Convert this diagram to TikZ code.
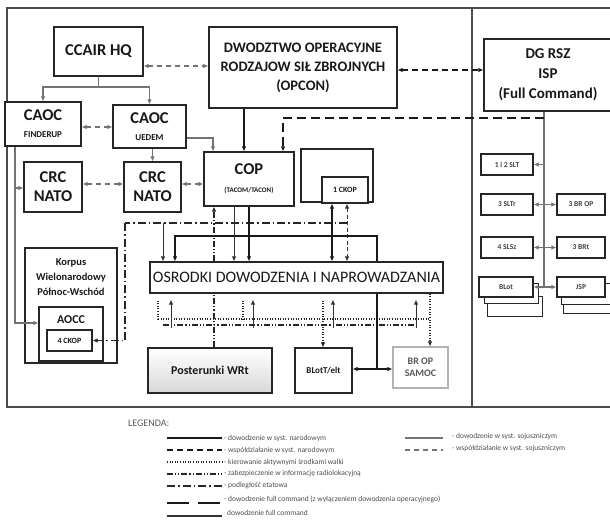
\documentclass[tikz,border=0pt]{standalone}
\usepackage{fontspec}
\setmainfont{Carlito}
\usetikzlibrary{arrows.meta,shadows,calc}
\tikzset{
  box/.style={draw=black!85, line width=1.1pt, fill=white, align=center, inner sep=1pt,
    font=\bfseries, text=black!90,
    drop shadow={shadow xshift=1.2pt, shadow yshift=-1.2pt, fill=black!35, opacity=1}},
  fs/.style={font={\bfseries\fontsize{#1}{#1*1.15}\selectfont}},
  frame/.style={draw=black!70, line width=1.1pt},
  nat/.style={draw=black!90, line width=1.7pt},
  natco/.style={draw=black!90, line width=1.7pt, dash pattern=on 6pt off 4pt},
  ctrl/.style={draw=black!85, line width=1.3pt, dash pattern=on 1pt off 1.6pt},
  radar/.style={draw=black!85, line width=1.2pt, dash pattern=on 6pt off 2pt on 1.2pt off 2pt on 1.2pt off 2pt},
  etat/.style={draw=black!85, line width=1.3pt, dash pattern=on 8pt off 3pt on 1.5pt off 3pt},
  fullc/.style={draw=black!90, line width=1.7pt, dash pattern=on 9pt off 5pt},
  ally/.style={draw=black!55, line width=1.3pt},
  allyco/.style={draw=black!55, line width=1.3pt, dash pattern=on 5pt off 4pt},
  thinln/.style={draw=black!80, line width=0.9pt},
  thindash/.style={draw=black!80, line width=1pt, dash pattern=on 4pt off 2.5pt},
  legtxt/.style={anchor=west, font=\fontsize{7.5}{8}\selectfont, text=black!70, inner sep=0pt},
  stack/.style={draw=black!85, line width=1pt, fill=white},
}
\newcommand{\bx}[7][]{%
  \node[box,#1,minimum width={(#5-#3)*1pt},minimum height={(#6-#4)*1pt}] (#2)
    at ({(#3+#5)/2},{(#4+#6)/2}) {#7};}
\begin{document}
\begin{tikzpicture}[x=1pt,y=-1pt,>={Latex[length=5pt,width=4.5pt]}]
\useasboundingbox (0,0) rectangle (610,527);
\clip (0,0) rectangle (610,527);
% frame
\draw[frame] (7,8) rectangle (620,407);
\draw[frame] (472,8) -- (472,407);

% boxes
\bx[font={\bfseries\fontsize{16.5}{18}\selectfont}]{ccair}{54}{27}{143}{76}{CCAIR HQ}
\bx[font={\bfseries\fontsize{14.5}{19}\selectfont}]{dwo}{209}{27}{397}{108}{DWODZTWO OPERACYJNE\\RODZAJOW SIŁ ZBROJNYCH\\(OPCON)}
\bx[font={\bfseries\fontsize{15}{20}\selectfont}]{dgrsz}{484}{39}{612}{111}{DG RSZ\\ISP\\(Full Command)}
\bx[font={\bfseries\fontsize{16.5}{17}\selectfont}]{caocf}{5}{102}{81}{146}{CAOC\\{\fontsize{9}{10}\selectfont FINDERUP}}
\bx[font={\bfseries\fontsize{16.5}{17}\selectfont}]{caocu}{113}{105}{186}{148}{CAOC\\{\fontsize{9}{10}\selectfont UEDEM}}
\bx[font={\bfseries\fontsize{16.5}{19}\selectfont}]{crcl}{24}{162}{82}{212}{CRC\\NATO}
\bx[font={\bfseries\fontsize{16.5}{19}\selectfont}]{crcm}{124}{162}{181}{212}{CRC\\NATO}
\bx[font={\bfseries\fontsize{16.5}{18}\selectfont}]{cop}{204}{152}{294}{206}{COP\\{\fontsize{7}{9}\selectfont (TACOM/TACON)}}
\bx{ckbox}{301}{149}{373}{202}{}
\bx[font={\bfseries\fontsize{8}{9}\selectfont}]{ckop1}{322}{177}{368}{203}{1 CKOP}
\bx[font={\fontsize{16}{18}\selectfont}]{osr}{150}{262}{443}{293}{OSRODKI DOWODZENIA I NAPROWADZANIA}
\bx{korp}{25}{248}{117}{363}{}
\node[font={\bfseries\fontsize{10.5}{15}\selectfont}, align=center, text=black!90] (korpt) at (71,277) {Korpus\\Wielonarodowy\\Północ-Wschód};
\bx{aocc}{39}{307}{103}{361}{}
\node[font={\bfseries\fontsize{12}{13}\selectfont}, text=black!90] (aocct) at (71,320) {AOCC};
\bx[font={\bfseries\fontsize{8}{9}\selectfont}]{ckop4}{47}{330}{92}{351}{4 CKOP}
\bx[top color=white, bottom color=black!15, font={\bfseries\fontsize{12}{13}\selectfont}]{post}{148}{348}{272}{393}{Posterunki WRt}
\bx[font={\bfseries\fontsize{9}{10}\selectfont}]{blot}{295}{348}{352}{393}{BLotT/elt}
\bx[draw=black!30, text=black!65, font={\bfseries\fontsize{10}{12}\selectfont}]{samoc}{393}{347}{448}{388}{BR OP\\SAMOC}

% right panel
\tikzset{small/.style={font={\bfseries\fontsize{7.5}{8}\selectfont}, text=black!75}}
\bx[small]{s12}{481}{154}{533}{175}{1 i 2 SLT}
\bx[small]{s3}{481}{194}{533}{215}{3 SLTr}
\bx[small]{b3op}{557}{194}{605}{215}{3 BR OP}
\bx[small]{s4}{481}{237}{533}{258}{4 SLSz}
\bx[small]{b3rt}{557}{237}{605}{258}{3 BRt}
\draw[stack] (487,296) rectangle (542,316);
\draw[stack] (484,283) rectangle (538,303);
\bx[small]{rblot}{479}{277}{533}{297}{BLot}
\draw[stack] (563,293) rectangle (615,313);
\draw[stack] (561,283) rectangle (613,304);
\bx[small]{jsp}{557}{277}{605}{297}{JSP}

% top connectors
\coordinate (j1) at (ccair.south |- 0,87);
\draw[ally] (ccair.south) -- (j1);
\draw[ally,->] (j1) -| (caocf.north);
\draw[ally,->] (j1) -| (caocu.north);
\draw[allyco,<->] (ccair.east |- 0,66) -- (dwo.west |- 0,66);
\draw[natco,<->] (dwo.east |- 0,70) -- (dgrsz.west |- 0,70);
\draw[allyco,<->] (caocf.east |- 0,127) -- (caocu.west |- 0,127);
\draw[ally,->] (caocu.east |- 0,138) -| (cop.north -| 213,0);
\draw[ally,->] (caocu.south -| crcm.north) -- (crcm.north);
\draw[allyco,<->] (crcl.east |- 0,184) -- (crcm.west |- 0,184);
\draw[allyco,<->] (crcm.east |- 0,184) -- (cop.west |- 0,184);
\draw[nat,->] (dwo.south -| 244,0) -- (cop.north -| 244,0);
\coordinate (lt) at (caocf.south -| 15,0);
\coordinate (lb) at (15,188);
\draw[ally,->] (lt) |- (aocc.west |- 0,323);
\draw[ally,->] (lb) -- (crcl.west |- lb);

% DG RSZ
\coordinate (dgj) at (dgrsz.south -| 544,0);
\draw[ally] (dgj) -- (dgj |- rblot.east);
\draw[fullc,->] (dgj |- 0,118) -| (cop.north -| 283,0);
\draw[ally,->] (dgj |- s12.east) -- (s12.east);
\draw[ally,<->] (s3.east) -- (b3op.west);
\draw[ally,<->] (s4.east) -- (b3rt.west);
\draw[ally,<->] (rblot.east) -- (jsp.west);

% below COP
\coordinate (e0) at (125,223);
\coordinate (e1) at (347,223);
\coordinate (e2) at (163,223);
\draw[etat] (e1) -- (e0);
\draw[etat,->] (e0) |- (ckop4.east);
\draw[thinln,->] (e2) -- (osr.north -| e2);
\coordinate (n1) at (cop.south |- 0,236);
\draw[nat,->] (cop.south) -- (osr.north -| cop.south);
\draw[nat,->] (n1) -| (osr.north -| 175,0);
\draw[nat] (n1) -| (osr.north -| 377,0);
\draw[nat,<->] (ckop1.south -| 332,0) -- (osr.north -| 332,0);
\draw[thindash,<->] (ckop1.south -| 347,0) -- (osr.north -| 347,0);
\draw[radar,->] (osr.north -| 214,0) -- (cop.south -| 214,0);
\draw[thinln,->] (cop.south -| 234,0) -- (osr.north -| 234,0);

% below OSRODKI
\draw[radar] (post.north -| 214,0) -- (osr.south -| 214,0);
\coordinate (d0) at (158,319);
\coordinate (d1) at (430,319);
\draw[ctrl] (d0) -- (d1);
\draw[ctrl] ($(osr.south -| d0)+(0,7)$) -- (d0);
\draw[ctrl] ($(osr.south -| 243,0)+(0,7)$) -- (243,319);
\draw[ctrl,->] ($(osr.south -| 323,0)+(0,7)$) -- (blot.north -| 323,0);
\draw[ctrl,->] (osr.south -| d1) -- (samoc.north -| d1);
\coordinate (r0) at (163,325);
\coordinate (r1) at (415,325);
\draw[radar] (r0) -- (r1);
\foreach \xx in {171,253,333,416} {
  \draw[thinln,->] (\xx,328) -- ($(osr.south -| \xx,0)+(0,6)$);
}
\coordinate (n2) at (377,369);
\draw[nat] (osr.south -| n2) -- (n2);
\draw[nat,<->] (blot.east |- n2) -- (samoc.west |- n2);

% legend
\node[anchor=west, font=\fontsize{10}{11}\selectfont, text=black!65, inner sep=0pt] (leg) at (128,423) {LEGENDA:};
\draw[nat] (167,438) -- (222,438);
\node[legtxt] (l1) at (224,438) {- dowodzenie w syst. narodowym};
\draw[natco] (167,450) -- (222,450);
\node[legtxt] (l2) at (224,450) {- współdziałanie w syst. narodowym};
\draw[ctrl] (167,462) -- (222,462);
\node[legtxt] (l3) at (224,462) {- kierowanie aktywnymi środkami walki};
\draw[radar] (167,474) -- (222,474);
\node[legtxt] (l4) at (224,474) {- zabezpieczenie w informację radiolokacyjną};
\draw[etat] (167,486) -- (222,486);
\node[legtxt] (l5) at (224,486) {- podległość etatowa};
\draw[nat, dash pattern=on 22pt off 9pt] (167,503) -- (222,503);
\node[legtxt] (l6) at (224,499) {- dowodzenie full command (z wyłączeniem dowodzenia operacyjnego)};
\draw[draw=black!80, line width=2.6pt] (167,516) -- (222,516);
\node[legtxt] (l7) at (227,513) {dowodzenie full command};
\draw[ally] (405,438) -- (443,438);
\node[legtxt] (l8) at (452,437) {- dowodzenie w syst. sojuszniczym};
\draw[allyco] (405,450) -- (443,450);
\node[legtxt] (l9) at (452,449) {- współdziałanie w syst. sojuszniczym};
\end{tikzpicture}
\end{document}
